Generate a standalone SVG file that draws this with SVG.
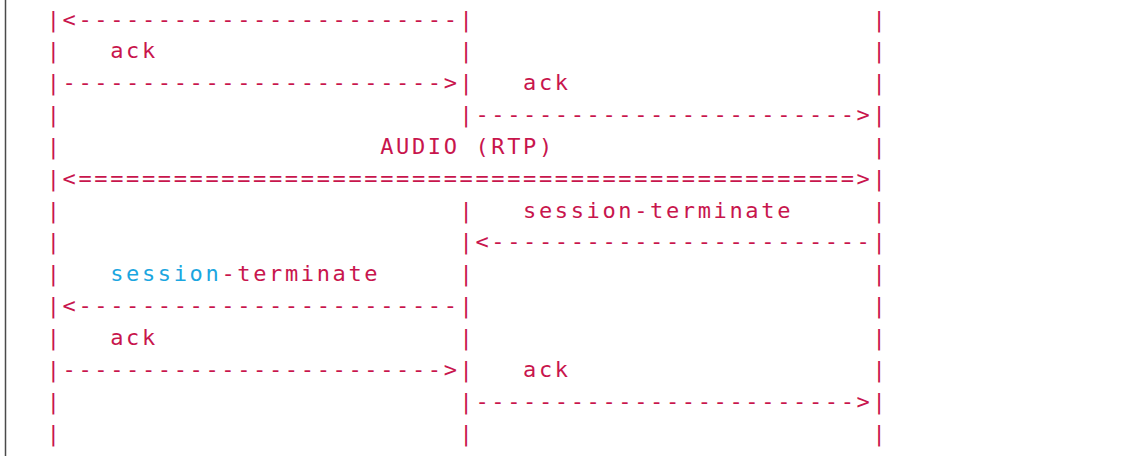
<svg xmlns="http://www.w3.org/2000/svg" width="1129" height="456" viewBox="0 0 1129 456">
<style>
text{font-family:"DejaVu Sans Mono","Liberation Mono",monospace;font-size:22px;letter-spacing:2.634px;fill:#c8154d;white-space:pre}
.kw{fill:#1ba6e0}
</style>
<rect width="1129" height="456" fill="#ffffff"/>
<line x1="5.5" y1="0" x2="5.5" y2="456" stroke="#4a4a4a" stroke-width="1.5"/>
<g id="ascii" xml:space="preserve">
<text x="46.7" y="26.5">|&lt;------------------------|                         |</text>
<text x="46.7" y="58.35">|   ack                   |                         |</text>
<text x="46.7" y="90.2">|------------------------&gt;|   ack                   |</text>
<text x="46.7" y="122.05">|                         |------------------------&gt;|</text>
<text x="46.7" y="153.9">|                    AUDIO (RTP)                    |</text>
<text x="46.7" y="185.75">|&lt;=================================================&gt;|</text>
<text x="46.7" y="217.6">|                         |   session-terminate     |</text>
<text x="46.7" y="249.45">|                         |&lt;------------------------|</text>
<text x="46.7" y="281.3">|   <tspan class="kw">session</tspan>-terminate     |                         |</text>
<text x="46.7" y="313.15">|&lt;------------------------|                         |</text>
<text x="46.7" y="345">|   ack                   |                         |</text>
<text x="46.7" y="376.85">|------------------------&gt;|   ack                   |</text>
<text x="46.7" y="408.7">|                         |------------------------&gt;|</text>
<text x="46.7" y="440.55">|                         |                         |</text>
</g>
</svg>
